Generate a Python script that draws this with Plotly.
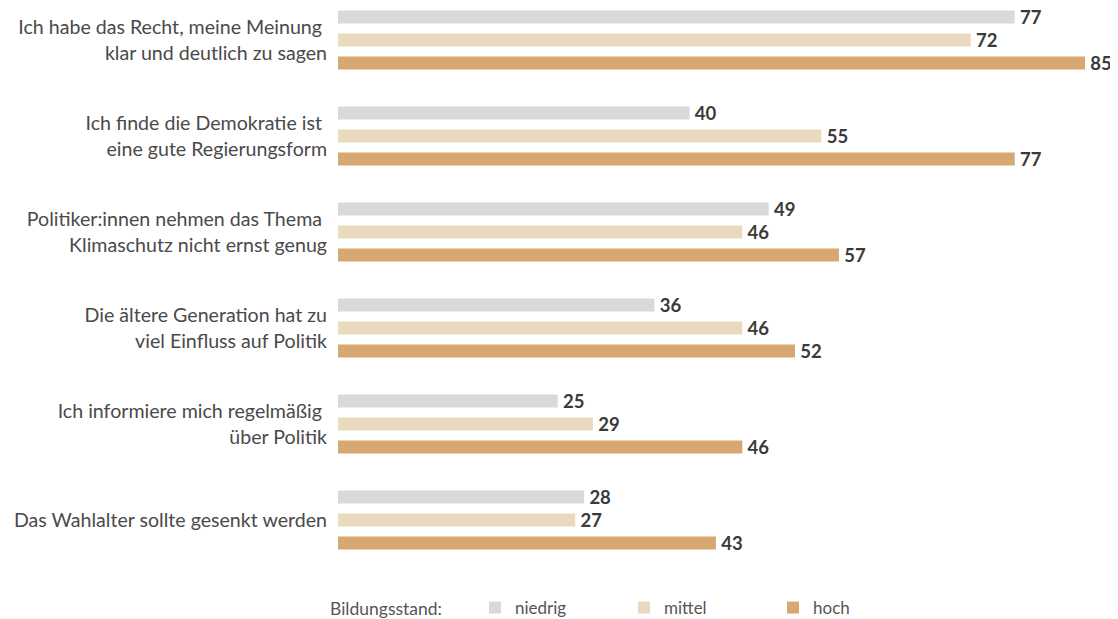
import plotly.graph_objects as go

categories = [
    "Ich habe das Recht, meine Meinung\u00a0<br>klar und deutlich zu sagen",
    "Ich finde die Demokratie ist\u00a0<br>eine gute Regierungsform",
    "Politiker:innen nehmen das Thema\u00a0<br>Klimaschutz nicht ernst genug",
    "Die ältere Generation hat zu<br>viel Einfluss auf Politik",
    "Ich informiere mich regelmäßig\u00a0<br>über Politik",
    "Das Wahlalter sollte gesenkt werden",
]
niedrig = [77, 40, 49, 36, 25, 28]
mittel = [72, 55, 46, 46, 29, 27]
hoch = [85, 77, 57, 52, 46, 43]
series_names = ["niedrig", "mittel", "hoch"]
legend_title = "Bildungsstand:"

colors = ["#d9d9d9", "#e9d9bd", "#d8a873"]

W, H = 1110, 611
L, B = 330, 49
plot_w = W - L
plot_h = H - B

fig = go.Figure()
for name, vals, col in zip(series_names, [niedrig, mittel, hoch], colors):
    fig.add_trace(go.Bar(
        y=categories, x=vals, name=name, orientation="h",
        marker=dict(color=col, line=dict(width=0)),
        text=vals, texttemplate="\u2009%{text}", textposition="outside",
        cliponaxis=False, constraintext="none",
        textfont=dict(family="Lato", size=18.5, color="#3a3a3a", weight="bold"),
        hoverinfo="skip",
    ))

fig.update_layout(
    width=W, height=H,
    margin=dict(l=L, r=0, t=0, b=B, autoexpand=False),
    paper_bgcolor="white", plot_bgcolor="white",
    barmode="group", bargap=0.28, bargroupgap=0.43,
    font=dict(family="Lato", color="#4a4a4a"),
    xaxis=dict(range=[0, 88.75], visible=False, fixedrange=True),
    yaxis=dict(type="category", range=[5.5208, -0.3333], showgrid=False,
               zeroline=False, showline=False, ticks="", ticklabelstandoff=10,
               automargin=False,
               tickfont=dict(family="Lato", size=19.6, color="#4a4a4a")),
    legend=dict(orientation="h", x=(467 - L) / plot_w, xanchor="left",
                y=-(600 - plot_h) / plot_h, yanchor="middle", yref="paper",
                font=dict(family="Lato", size=17, color="#555555"),
                entrywidth=104, entrywidthmode="pixels",
                traceorder="normal"),
    showlegend=True,
)
fig.add_annotation(text=legend_title, xref="paper", yref="paper",
                   x=(320 - L) / plot_w, y=-(600 - plot_h) / plot_h,
                   xanchor="left", yanchor="middle",
                   showarrow=False, font=dict(family="Lato", size=17.5, color="#555555"))

fig.write_html("out.html")
